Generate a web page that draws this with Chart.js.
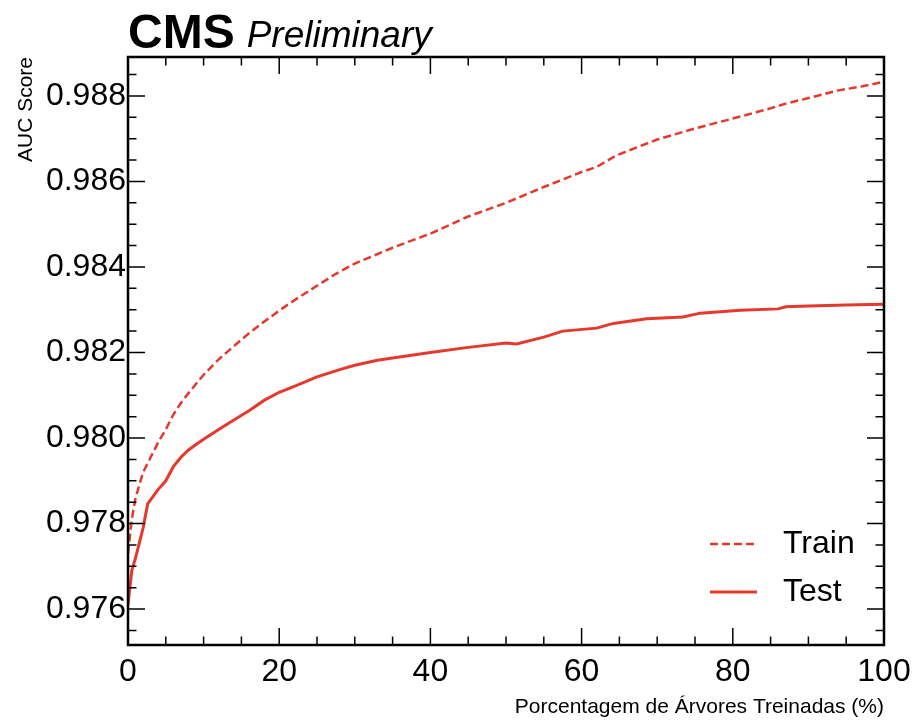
<!DOCTYPE html>
<html>
<head>
<meta charset="utf-8">
<script src="https://cdn.jsdelivr.net/npm/chart.js@4.4.0/dist/chart.umd.min.js"></script>
<style>
  html, body { margin: 0; padding: 0; background: #ffffff; }
  #wrap { width: 916px; height: 722px; position: relative; }
</style>
</head>
<body>
<div id="wrap"><canvas id="c"></canvas></div>
<script>
// ---- data ----
const trainX = [0, 0.5, 1, 2, 3, 4, 5, 6, 7, 8, 10, 12, 14, 16, 18, 20, 22.5, 25, 27.5, 30, 35, 40, 45, 50, 55, 60, 62, 64.6, 70, 75, 80, 85, 87, 90, 94, 97, 100];
const trainAUC = [0.9773, 0.9781, 0.9786, 0.9792, 0.97955, 0.9799, 0.9802, 0.98055, 0.98082, 0.98105, 0.98148, 0.98184, 0.98215, 0.98245, 0.98272, 0.98298, 0.98328, 0.98356, 0.98384, 0.98408, 0.98445, 0.98478, 0.98518, 0.98550, 0.98587, 0.98622, 0.98634, 0.98661, 0.98698, 0.98724, 0.98747, 0.98771, 0.98782, 0.98795, 0.98813, 0.98822, 0.98833];

const testX = [0, 0.5, 1, 2, 2.6, 4, 5, 6, 7, 8, 9, 10, 12, 14, 16, 18, 20, 22, 25, 28, 30, 33, 35, 40, 45, 50, 51.4, 55, 57.5, 62, 64.2, 68.6, 73.4, 75.7, 81, 86, 87, 90, 95, 100];
const testAUC = [0.9761, 0.9769, 0.9772, 0.9779, 0.97846, 0.9788, 0.9790, 0.97933, 0.97955, 0.97972, 0.97985, 0.97997, 0.98020, 0.98042, 0.98064, 0.98088, 0.98107, 0.98121, 0.98143, 0.98160, 0.98170, 0.98182, 0.98187, 0.98200, 0.98212, 0.98222, 0.98220, 0.98236, 0.98250, 0.98257, 0.98268, 0.98279, 0.98283, 0.98292, 0.98299, 0.98302, 0.98307, 0.98309, 0.98311, 0.98313];

const seriesNames = ["Train", "Test"];
const xTickLabels = [0, 20, 40, 60, 80, 100];
const yTickLabels = [0.976, 0.978, 0.980, 0.982, 0.984, 0.986, 0.988];
const xMinorStep = 5;
const yMinorStep = 0.0005;
const xTitle = "Porcentagem de Árvores Treinadas (%)";
const yTitle = "AUC Score";

// ---- styling ----
const RED = "#e5392e";
const FONT = "'Liberation Sans', Arial, Helvetica, sans-serif";

const framePlugin = {
  id: 'frame',
  afterDatasetsDraw(chart) {
    const ctx = chart.ctx;
    const a = chart.chartArea;
    const xs = chart.scales.x, ys = chart.scales.y;
    ctx.save();
    ctx.strokeStyle = '#000';
    ctx.lineWidth = 1.5;
    ctx.beginPath();
    const majL = 17, minL = 8.5;
    const xmin = xs.min, xmax = xs.max;
    for (let v = Math.ceil(xmin / xMinorStep) * xMinorStep; v <= xmax + 1e-9; v += xMinorStep) {
      const px = xs.getPixelForValue(v);
      const isMaj = xTickLabels.some(t => Math.abs(t - v) < 1e-9);
      const L = isMaj ? majL : minL;
      ctx.moveTo(px, a.bottom); ctx.lineTo(px, a.bottom - L);
      ctx.moveTo(px, a.top); ctx.lineTo(px, a.top + L);
    }
    const ymin = ys.min, ymax = ys.max;
    for (let k = Math.ceil(ymin / yMinorStep - 1e-6); k * yMinorStep <= ymax + 1e-12; k++) {
      const v = k * yMinorStep;
      const py = ys.getPixelForValue(v);
      const isMaj = yTickLabels.some(t => Math.abs(t - v) < 1e-9);
      const L = isMaj ? majL : minL;
      ctx.moveTo(a.left, py); ctx.lineTo(a.left + L, py);
      ctx.moveTo(a.right, py); ctx.lineTo(a.right - L, py);
    }
    ctx.stroke();
    ctx.lineWidth = 2.5;
    ctx.strokeRect(a.left, a.top, a.right - a.left, a.bottom - a.top);
    ctx.restore();
  },
  afterDraw(chart) {
    const ctx = chart.ctx;
    const a = chart.chartArea;
    ctx.save();
    ctx.fillStyle = '#000';
    ctx.textBaseline = 'alphabetic';
    ctx.textAlign = 'left';
    ctx.font = "bold 48px " + FONT;
    ctx.fillText("CMS", a.left, 48);
    const w = ctx.measureText("CMS").width;
    ctx.font = "italic 37px " + FONT;
    ctx.fillText("Preliminary", a.left + w + 12, 47);
    const legX0 = 710, legX1 = 757, textX = 783;
    const legY = [544, 592];
    chart.data.datasets.forEach((ds, i) => {
      ctx.strokeStyle = ds.borderColor;
      ctx.lineWidth = ds.borderWidth;
      ctx.setLineDash(ds.borderDash || []);
      ctx.beginPath();
      ctx.moveTo(legX0, legY[i]);
      ctx.lineTo(legX1, legY[i]);
      ctx.stroke();
      ctx.setLineDash([]);
      ctx.fillStyle = '#000';
      ctx.font = "32px " + FONT;
      ctx.textBaseline = 'middle';
      ctx.fillText(ds.label, textX, legY[i]);
    });
    ctx.restore();
  }
};

new Chart(document.getElementById('c'), {
  type: 'line',
  data: {
    datasets: [
      {
        label: seriesNames[0],
        data: trainX.map((x, i) => ({ x: x, y: trainAUC[i] })),
        borderColor: RED,
        borderWidth: 2.5,
        borderDash: [8, 4],
        pointRadius: 0,
        tension: 0,
        fill: false
      },
      {
        label: seriesNames[1],
        data: testX.map((x, i) => ({ x: x, y: testAUC[i] })),
        borderColor: RED,
        borderWidth: 3,
        pointRadius: 0,
        tension: 0,
        fill: false
      }
    ]
  },
  options: {
    responsive: true,
    maintainAspectRatio: false,
    animation: false,
    layout: { padding: { left: 14, right: 32, top: 57, bottom: 0 } },
    plugins: {
      legend: { display: false },
      tooltip: { enabled: false },
      title: { display: false }
    },
    scales: {
      x: {
        type: 'linear',
        min: 0,
        max: 100,
        grid: { display: false, drawTicks: false },
        border: { display: false },
        afterBuildTicks: s => { s.ticks = xTickLabels.map(v => ({ value: v })); },
        afterFit: s => { s.height = 77; s.paddingLeft = 0; s.paddingRight = 0; },
        ticks: {
          color: '#000',
          font: { family: FONT, size: 32 },
          padding: 8,
          maxRotation: 0,
          callback: v => String(v)
        },
        title: {
          display: true,
          text: xTitle,
          align: 'end',
          color: '#000',
          font: { family: FONT, size: 21 },
          padding: { top: 0, bottom: 2 }
        }
      },
      y: {
        type: 'linear',
        min: 0.97516,
        max: 0.98891,
        grid: { display: false, drawTicks: false },
        border: { display: false },
        afterBuildTicks: s => { s.ticks = yTickLabels.map(v => ({ value: v })); },
        afterFit: s => { s.width = 114; s.paddingTop = 0; s.paddingBottom = 0; },
        ticks: {
          color: '#000',
          font: { family: FONT, size: 32 },
          padding: 2,
          callback: v => Number(v).toFixed(3)
        },
        title: {
          display: true,
          text: yTitle,
          align: 'end',
          color: '#000',
          font: { family: FONT, size: 21 },
          padding: { top: 0, bottom: 0 }
        }
      }
    }
  },
  plugins: [framePlugin]
});
</script>
</body>
</html>
